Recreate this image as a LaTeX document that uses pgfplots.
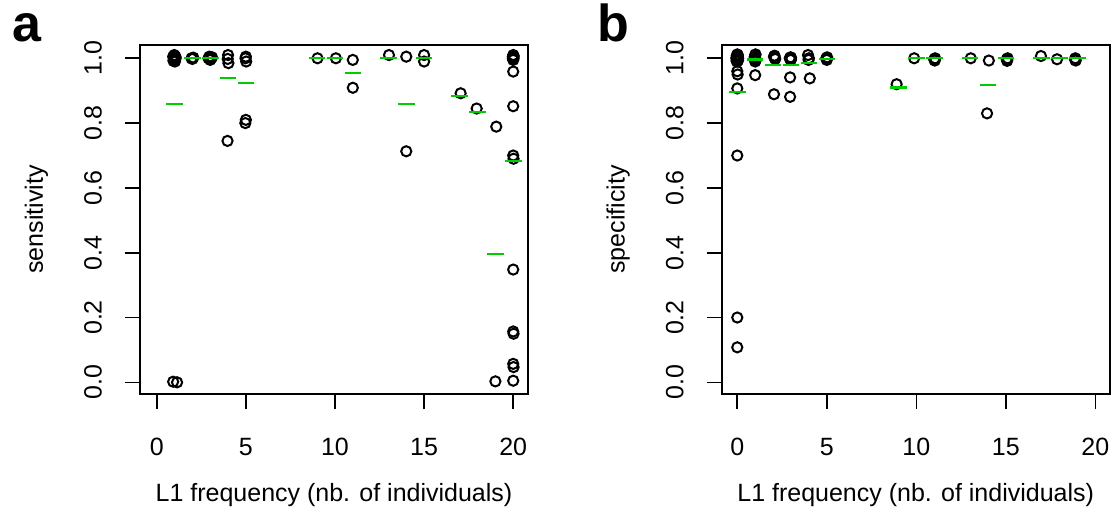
\documentclass[border=0pt]{standalone}
\usepackage{fontspec}
\setmainfont{Liberation Sans}
\usepackage{pgfplots}
\pgfplotsset{compat=1.18}
\definecolor{rgreen}{RGB}{0,205,0}
\pgfplotsset{
  rstyle/.style={
    scale only axis, width=388bp, height=349bp,
    ymin=-0.036, ymax=1.041,
    ytick={0,0.2,0.4,0.6,0.8,1.0},
    yticklabels={0.0,0.2,0.4,0.6,0.8,1.0},
    xtick={0,5,10,15,20},
    xticklabels={0,5,10,15,20},
    axis line style={line width=1.6bp},
    every tick/.style={line width=1.6bp, black},
    tick align=outside, major tick length=15bp,
    xtick pos=left, ytick pos=left,
    ticklabel style={font=\fontsize{25bp}{30bp}\selectfont},
    yticklabel style={xshift=-23bp, rotate=90, anchor=south, inner sep=0pt},
    xticklabel style={yshift=-29bp, anchor=north, inner sep=0pt},
    clip=false,
    every axis x label/.style={at={(axis description cs:0.5,0)}, anchor=base, yshift=-107bp, font=\fontsize{25bp}{30bp}\selectfont},
    every axis y label/.style={at={(axis description cs:-0.25,0.5)}, rotate=90, anchor=base, font=\fontsize{25bp}{30bp}\selectfont},
    xlabel={L1 frequency (nb. of individuals)},
  },
  circ/.style={only marks, mark=o, mark size=5.1bp, mark options={line width=2bp, draw=black}},
  mean/.style={only marks, mark=-, mark size=8.3bp, mark options={line width=2.3bp, draw=rgreen}},
}
\begin{document}
\begin{tikzpicture}
\path[use as bounding box] (0,0) rectangle (1114bp,525bp);
\node[anchor=base west, inner sep=0pt, font=\fontsize{52bp}{56bp}\selectfont\bfseries] at (12bp,483bp) {a};
\node[anchor=base west, inner sep=0pt, font=\fontsize{52bp}{56bp}\selectfont\bfseries] at (597bp,483bp) {b};
\begin{axis}[rstyle, at={(140bp,131bp)}, anchor=south west, xmin=-0.94, xmax=20.83, ylabel={sensitivity}]
\addplot[circ] coordinates {
(0.92,1.005) (0.95,0.995) (0.98,1.01) (1.0,1.0) (1.02,0.99) (1.05,1.005) (0.97,0.998) (1.03,1.002) (0.94,0.992) (1.06,1.0) (1.0,1.008) (0.99,0.994)
(0.92,0.002) (1.14,0.0)
(1.95,1.0) (2.0,0.998) (2.05,1.002)
(2.9,1.0) (2.95,1.005) (3.0,0.995) (3.05,1.0) (3.1,1.003)
(4.0,1.01) (3.98,0.998) (4.02,0.985) (3.97,0.745)
(5.0,1.005) (4.98,1.0) (5.02,0.99) (5.0,0.81) (4.97,0.80)
(9.02,1.0) (10.05,1.0) (11.0,0.995) (11.0,0.909)
(13.03,1.01) (14.0,1.005) (14.0,0.713) (15.0,1.01) (15.0,0.99)
(17.05,0.892) (17.95,0.845) (19.05,0.789) (19.0,0.003)
(20.0,1.01) (19.98,1.005) (20.02,1.0) (20.0,0.995) (20.01,1.008) (19.99,0.998) (20.0,1.003) (20.02,1.006) (19.98,1.0)
(20.0,0.959) (20.0,0.852) (20.0,0.70) (20.02,0.69) (20.0,0.348) (20.0,0.157) (20.02,0.15) (20.0,0.057) (20.02,0.047) (20.0,0.005)
};
\addplot[mean] coordinates {
(1,0.859) (2,1.0) (3,1.0) (4,0.939) (5,0.924) (9,1.0) (10,1.0) (11,0.955) (13,1.0) (14,0.859) (15,1.0) (17,0.883) (18,0.835) (19,0.397) (20,0.683)
};
\end{axis}
\begin{axis}[rstyle, at={(721.7bp,131bp)}, anchor=south west, xmin=-0.87, xmax=20.8, ylabel={specificity}]
\addplot[circ] coordinates {
(-0.05,1.0) (-0.03,1.008) (0.0,0.995) (0.03,1.01) (0.05,1.0) (-0.04,0.992) (0.02,1.004) (0.0,1.012) (-0.02,0.998) (0.04,0.993) (0.01,1.006) (-0.01,0.99) (0.03,1.0) (-0.03,1.003) (0.0,0.997)
(0.0,0.96) (0.02,0.95) (0.0,0.907) (0.0,0.70) (0.0,0.20) (0.0,0.108)
(0.97,1.0) (1.0,1.01) (1.03,0.995) (0.98,1.005) (1.02,1.012) (1.0,0.99) (0.99,1.003) (1.01,0.998) (1.0,0.948)
(2.05,1.005) (2.1,1.0) (2.08,1.008) (2.12,0.998) (2.05,0.889)
(2.95,1.0) (2.97,1.003) (3.0,0.997) (2.93,1.0) (2.98,0.995) (3.0,1.002) (2.95,0.941) (2.95,0.881)
(3.95,1.01) (4.0,1.0) (3.98,0.995) (4.05,0.938)
(4.97,1.0) (5.0,0.995) (5.02,1.003)
(8.9,0.92) (9.88,1.0) (11.0,0.997) (11.03,0.993) (11.05,1.0)
(13.04,1.0) (14.05,0.993) (13.95,0.83) (15.05,0.997) (15.07,0.992) (15.1,1.0)
(16.96,1.007) (17.86,0.997) (18.86,0.997) (18.9,0.993) (18.88,1.0)
};
\addplot[mean] coordinates {
(0,0.897) (1,0.996) (2,0.979) (3,0.979) (4,0.985) (5,0.998) (9,0.91) (10,1.0) (11,1.0) (13,1.0) (14,0.917) (15,1.0) (17,1.0) (18,1.0) (19,1.0)
};
\end{axis}
\end{tikzpicture}
\end{document}
